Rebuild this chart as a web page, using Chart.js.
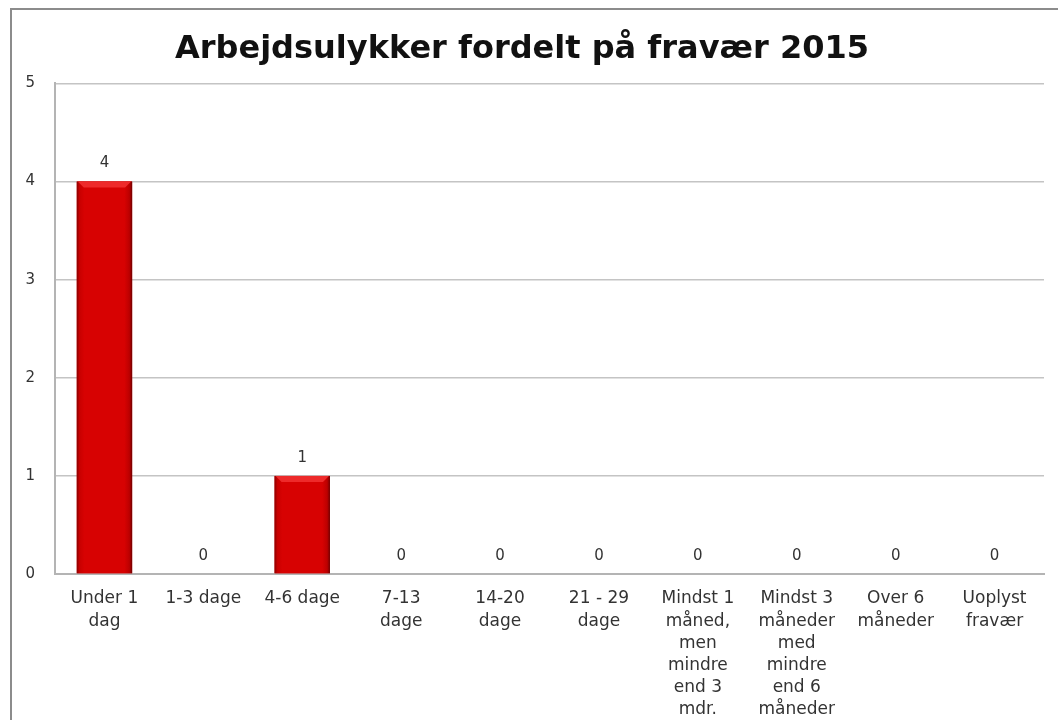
<!DOCTYPE html>
<html>
<head>
<meta charset="utf-8">
<script src="https://cdn.jsdelivr.net/npm/chart.js@4"></script>
<style>
  html, body { margin: 0; padding: 0; background: #fff; overflow: hidden; }
  #wrap { position: relative; width: 1058px; height: 720px; }
  #frame { position: absolute; left: 10px; top: 8px; width: 1100px; height: 760px;
           border: 2px solid #8c8c8c; box-sizing: border-box; }
  #myChart { position: absolute; left: 0; top: 0; }
</style>
</head>
<body>
<div id="wrap">
  <div id="frame"></div>
  <canvas id="myChart" width="1058" height="720"></canvas>
</div>
<script>
const chartTitle = "Arbejdsulykker fordelt på fravær 2015";
const categories = [
  ["Under 1", "dag"],
  "1-3 dage",
  "4-6 dage",
  ["7-13", "dage"],
  ["14-20", "dage"],
  ["21 - 29", "dage"],
  ["Mindst 1", "måned,", "men", "mindre", "end 3", "mdr."],
  ["Mindst 3", "måneder", "med", "mindre", "end 6", "måneder"],
  ["Over 6", "måneder"],
  ["Uoplyst", "fravær"]
];
const values = [4, 0, 1, 0, 0, 0, 0, 0, 0, 0];
const yTicks = [0, 1, 2, 3, 4, 5];

const fontFamily = "'DejaVu Sans', sans-serif";

// shaded bars with a bevel on top, plus value labels
const barExtras = {
  id: "barExtras",
  afterDatasetsDraw(chart) {
    const ctx = chart.ctx;
    const meta = chart.getDatasetMeta(0);
    ctx.save();
    meta.data.forEach((bar, i) => {
      const h = bar.base - bar.y;
      const left = bar.x - bar.width / 2;
      const right = bar.x + bar.width / 2;
      if (h > 8) {
        const g = ctx.createLinearGradient(left, 0, right, 0);
        g.addColorStop(0, "#8a0000");
        g.addColorStop(0.05, "#c80000");
        g.addColorStop(0.14, "#d70202");
        g.addColorStop(0.86, "#d70202");
        g.addColorStop(0.95, "#bc0000");
        g.addColorStop(1, "#700000");
        ctx.fillStyle = g;
        ctx.fillRect(left, bar.y, bar.width, h);
        ctx.fillStyle = "#ee2a2a";
        ctx.beginPath();
        ctx.moveTo(left + 1, bar.y);
        ctx.lineTo(right - 1, bar.y);
        ctx.lineTo(right - 7, bar.y + 6);
        ctx.lineTo(left + 7, bar.y + 6);
        ctx.closePath();
        ctx.fill();
      }
      ctx.fillStyle = "#333";
      ctx.font = "15px " + fontFamily;
      ctx.textAlign = "center";
      ctx.textBaseline = "middle";
      ctx.fillText(String(values[i]), bar.x, bar.y - 18);
    });
    ctx.restore();
  }
};

new Chart(document.getElementById("myChart"), {
  type: "bar",
  data: {
    labels: categories,
    datasets: [{
      label: "Arbejdsulykker",
      data: values,
      backgroundColor: "#d40000",
      borderWidth: 0,
      barPercentage: 0.56,
      categoryPercentage: 1.0
    }]
  },
  options: {
    responsive: false,
    animation: false,
    layout: { padding: { top: 30, right: 14, left: 0, bottom: 0 } },
    plugins: {
      legend: { display: false },
      tooltip: { enabled: false },
      title: {
        display: true,
        text: chartTitle,
        color: "#111",
        font: { family: fontFamily, size: 32, weight: "bold" },
        padding: { top: 0, bottom: 15 }
      }
    },
    scales: {
      x: {
        grid: { display: false, drawTicks: false },
        border: { color: "#b4b4b4", width: 2 },
        ticks: {
          color: "#333",
          font: { family: fontFamily, size: 17, lineHeight: 1.3 },
          maxRotation: 0,
          autoSkip: false,
          padding: 14
        },
        afterFit(scale) { scale.height = 146; }
      },
      y: {
        min: 0,
        max: 5,
        afterBuildTicks(scale) { scale.ticks = yTicks.map(v => ({ value: v })); },
        grid: { color: "#c4c4c4", lineWidth: 1.5, drawTicks: false },
        border: { color: "#b4b4b4", width: 2 },
        ticks: {
          color: "#333",
          font: { family: fontFamily, size: 15 },
          padding: 20
        },
        afterFit(scale) { scale.width = 55; }
      }
    }
  },
  plugins: [barExtras]
});
</script>
</body>
</html>
